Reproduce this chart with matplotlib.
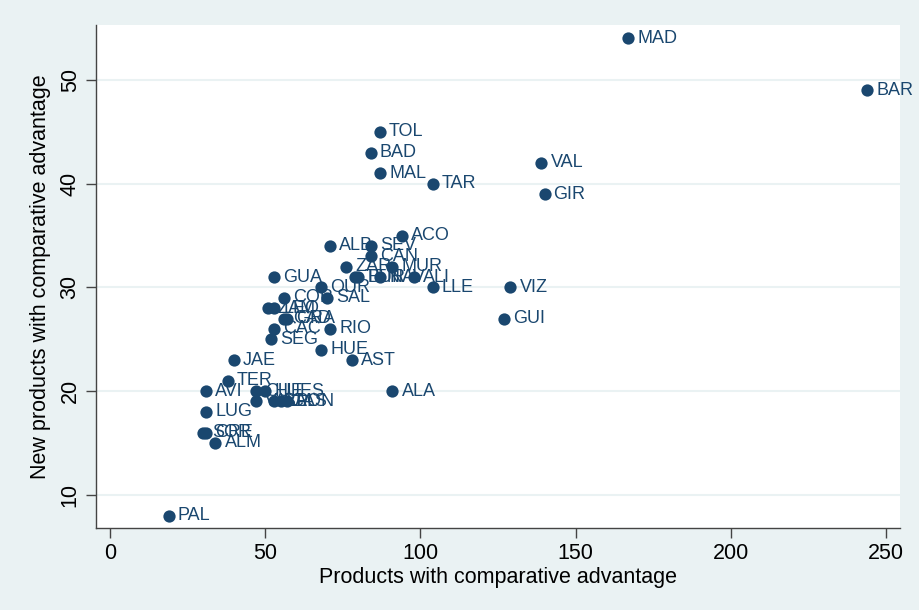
import matplotlib
matplotlib.use("Agg")
import matplotlib.pyplot as plt

# provinces: products with comparative advantage vs new products
labels = ["MAD", "BAR", "TOL", "BAD", "MAL", "TAR", "VAL", "GIR",
          "ACO", "ALB", "SEV", "CAN", "ZAR", "MUR",
          "TEN", "BUR", "NAV", "ALI",
          "GUA", "OUR", "LLE", "VIZ", "COR", "SAL",
          "ZAM", "LEO", "CAD", "GRA", "GUI", "CAC", "RIO", "SEG",
          "HUE", "JAE", "AST", "TER",
          "AVI", "CUE", "HUES", "ALA",
          "VALL", "BAL", "CAS", "PON",
          "LUG", "SOR", "CRE", "ALM", "PAL"]
prod_ca = [167, 244, 87, 84, 87, 104, 139, 140,
           94, 71, 84, 84, 76, 91,
           79, 80, 87, 98,
           53, 68, 104, 129, 56, 70,
           51, 53, 56, 57, 127, 53, 71, 52,
           68, 40, 78, 38,
           31, 47, 50, 91,
           47, 53, 55, 57,
           31, 30, 31, 34, 19]
new_ca = [54, 49, 45, 43, 41, 40, 42, 39,
          35, 34, 34, 33, 32, 32,
          31, 31, 31, 31,
          31, 30, 30, 30, 29, 29,
          28, 28, 27, 27, 27, 26, 26, 25,
          24, 23, 23, 21,
          20, 20, 20, 20,
          19, 19, 19, 19,
          18, 16, 16, 15, 8]

navy = "#1a476f"
bg = "#eaf2f3"

plt.rcParams["font.family"] = ["Liberation Sans", "DejaVu Sans"]

fig = plt.figure(figsize=(9.2, 6.1), dpi=100, facecolor=bg)
ax = fig.add_axes([0.1043, 0.1344, 0.874, 0.8246])
ax.set_facecolor("white")

ax.scatter(prod_ca, new_ca, s=78, color=navy, zorder=3, linewidths=0)
for lab, xv, yv in zip(labels, prod_ca, new_ca):
    ax.annotate(lab, xy=(xv, yv), xytext=(6.5, 0), textcoords="offset points",
                va="center", ha="left", fontsize=13, color=navy, zorder=4)

ax.set_xlim(-4.5, 254.5)
ax.set_ylim(6.8, 55.3)
ax.set_xticks([0, 50, 100, 150, 200, 250])
ax.set_yticks([10, 20, 30, 40, 50])
ax.grid(axis="y", color=bg, linewidth=1.5, zorder=0)
ax.set_axisbelow(True)

for side in ["top", "right"]:
    ax.spines[side].set_visible(False)
for side in ["left", "bottom"]:
    ax.spines[side].set_color("#444444")
    ax.spines[side].set_linewidth(1.0)

ax.tick_params(axis="both", direction="out", length=7, width=1, color="#444444",
               labelsize=15.5, pad=4)
for t in ax.get_yticklabels():
    t.set_rotation(90)
    t.set_va("center")

ax.set_xlabel("Products with comparative advantage", fontsize=15.5, labelpad=2)
ax.set_ylabel("New products with comparative advantage", fontsize=15.5, labelpad=6)

fig.savefig("out.png", dpi=100, facecolor=bg)
